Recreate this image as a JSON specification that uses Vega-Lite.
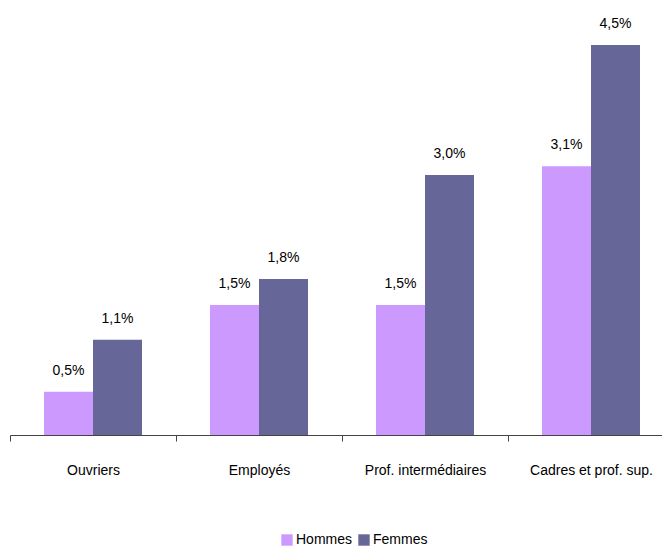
{
  "$schema": "https://vega.github.io/schema/vega-lite/v6.json",
  "width": 664,
  "height": 435,
  "autosize": "none",
  "padding": {"left": 10, "top": 0, "right": 0, "bottom": 114},
  "background": "white",
  "config": {"view": {"stroke": null}, "font": "Liberation Sans"},
  "data": {
    "values": [
      {"cat": "Ouvriers", "sexe": "Hommes", "v": 0.5, "lab": "0,5%"},
      {"cat": "Ouvriers", "sexe": "Femmes", "v": 1.1, "lab": "1,1%"},
      {"cat": "Employés", "sexe": "Hommes", "v": 1.5, "lab": "1,5%"},
      {"cat": "Employés", "sexe": "Femmes", "v": 1.8, "lab": "1,8%"},
      {"cat": "Prof. intermédiaires", "sexe": "Hommes", "v": 1.5, "lab": "1,5%"},
      {"cat": "Prof. intermédiaires", "sexe": "Femmes", "v": 3.0, "lab": "3,0%"},
      {"cat": "Cadres et prof. sup.", "sexe": "Hommes", "v": 3.1, "lab": "3,1%"},
      {"cat": "Cadres et prof. sup.", "sexe": "Femmes", "v": 4.5, "lab": "4,5%"}
    ]
  },
  "encoding": {
    "x": {
      "field": "cat", "type": "nominal", "sort": null, "title": null,
      "scale": {"paddingInner": 0, "paddingOuter": 0},
      "axis": {"labelAngle": 0, "labelFontSize": 14, "labelColor": "#000", "labelPadding": 22,
               "tickBand": "extent", "tickSize": 6, "domainColor": "#444", "tickColor": "#444", "labelFont": "Liberation Sans"}
    },
    "y": {"field": "v", "type": "quantitative", "scale": {"domain": [0, 5.02]}, "axis": null}
  },
  "layer": [
    {
      "mark": {"type": "bar"},
      "encoding": {
        "xOffset": {"field": "sexe", "type": "nominal", "sort": ["Hommes", "Femmes"], "scale": {"paddingInner": 0, "paddingOuter": 0.694}},
        "color": {
          "field": "sexe", "type": "nominal", "sort": ["Hommes", "Femmes"],
          "scale": {"domain": ["Hommes", "Femmes"], "range": ["#CC99FF", "#666699"]},
          "legend": {"orient": "none", "legendX": 270, "legendY": 533, "direction": "horizontal", "title": null,
                     "symbolType": "square", "symbolSize": 130, "labelFontSize": 14, "labelColor": "#000",
                     "symbolStrokeWidth": 0, "columnPadding": 4, "labelOffset": 2, "labelFont": "Liberation Sans"}
        }
      }
    },
    {
      "mark": {"type": "text", "dy": -14, "fontSize": 14, "color": "#000", "baseline": "bottom", "font": "Liberation Sans"},
      "encoding": {
        "xOffset": {"field": "sexe", "type": "nominal", "sort": ["Hommes", "Femmes"], "scale": {"paddingInner": 0, "paddingOuter": 0.694}},
        "text": {"field": "lab"}
      }
    }
  ]
}
